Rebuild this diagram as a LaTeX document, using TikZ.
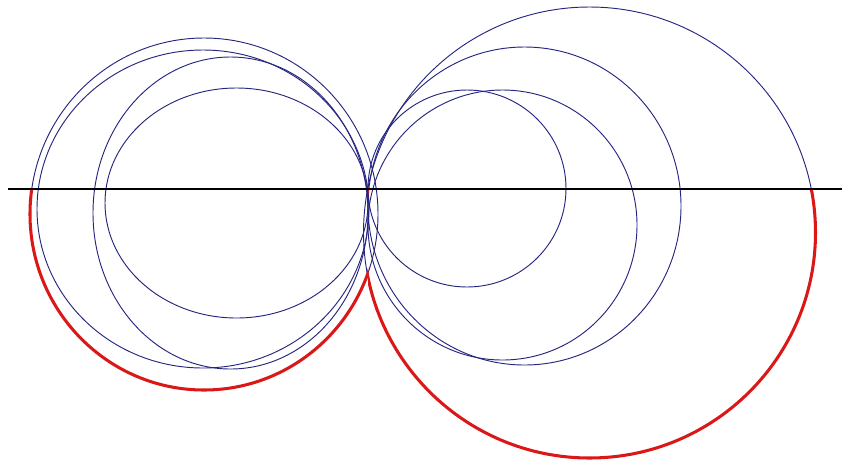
\documentclass[tikz,border=0pt]{standalone}
\usepackage{xcolor}
\usepackage{tikz}

\definecolor{circblue}{RGB}{38,38,128}
\definecolor{arcred}{RGB}{218,24,24}

\begin{document}
\begin{tikzpicture}[x=0.03cm, y=-0.03cm,
    circ/.style={draw=circblue, line width=0.8pt},
    envelope/.style={draw=arcred, line width=2.6pt},
    axisline/.style={draw=black, line width=2.4pt}]
    \useasboundingbox (0,0) rectangle (842,464);

    % left family of circles
    \foreach \i/\cx/\cy/\rx/\ry in {1/204/214/174/176, 2/203/209/166/159,
                                    3/230.5/213/137.5/156, 4/236.5/203/131.5/115}
    {
        \coordinate (L\i) at (\cx,\cy);
        \draw[circ] (L\i) ellipse [x radius=\rx, y radius=\ry];
    }

    % right family of circles
    \foreach \i/\cx/\cy/\rx/\ry in {1/589.5/232.5/226/225.5, 2/524.5/206/156.5/159,
                                    3/502.5/225/134.5/135, 4/467/188.5/99/98.5}
    {
        \coordinate (R\i) at (\cx,\cy);
        \draw[circ] (R\i) ellipse [x radius=\rx, y radius=\ry];
    }

    % lower arcs of the two outer circles
    \begin{scope}
        \clip (0,189) rectangle (368,464);
        \draw[envelope] (L1) ellipse [x radius=174, y radius=176];
    \end{scope}
    \begin{scope}
        \clip (368,189) rectangle (842,464);
        \draw[envelope] (R1) ellipse [x radius=226, y radius=225.5];
    \end{scope}

    % horizontal line
    \coordinate (west) at (8,189);
    \coordinate (mid) at (425,189);
    \coordinate (east) at (842,189);
    \draw[axisline] (west) -- (mid);
    \draw[axisline, line width=1.8pt] (mid) -- (east);
\end{tikzpicture}
\end{document}
